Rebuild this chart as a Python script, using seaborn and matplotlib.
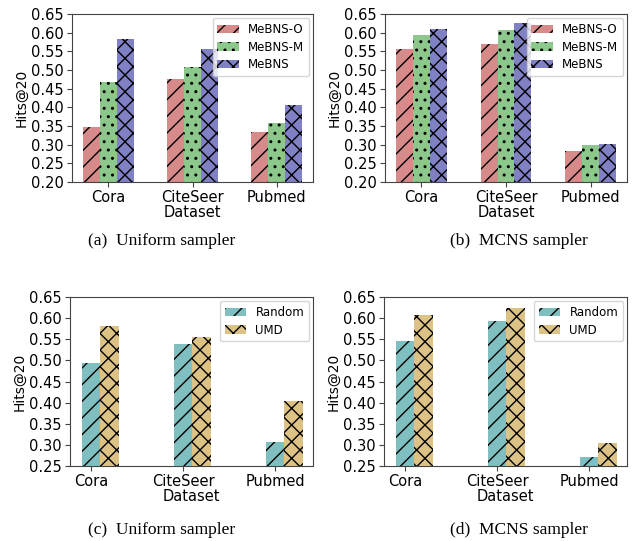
import seaborn as sns
import matplotlib.pyplot as plt
import pandas as pd
from matplotlib.patches import Patch

datasets = ["Cora", "CiteSeer", "Pubmed"]

# (a) / (b): MeBNS variants
variants = ["MeBNS-O", "MeBNS-M", "MeBNS"]
uni_mebns_o = [0.346, 0.477, 0.335]
uni_mebns_m = [0.468, 0.508, 0.358]
uni_mebns = [0.582, 0.555, 0.405]
mcns_mebns_o = [0.556, 0.569, 0.283]
mcns_mebns_m = [0.594, 0.607, 0.298]
mcns_mebns = [0.609, 0.625, 0.303]

# (c) / (d): Random vs UMD
strategies = ["Random", "UMD"]
uni_random = [0.494, 0.538, 0.307]
uni_umd = [0.582, 0.555, 0.405]
mcns_random = [0.546, 0.593, 0.272]
mcns_umd = [0.608, 0.625, 0.304]

variant_colors = ["#D68A8A", "#8CC78C", "#8080C4"]
variant_hatches = ["//", "..", "xx"]
strategy_colors = ["#80BFBF", "#DCC285"]
strategy_hatches = ["//", "xx"]

captions = ["(a)  Uniform sampler", "(b)  MCNS sampler",
            "(c)  Uniform sampler", "(d)  MCNS sampler"]


def long_df(names, series):
    rows = []
    for name, vals in zip(names, series):
        for d, v in zip(datasets, vals):
            rows.append({"Dataset": d, "Method": name, "Hits@20": v})
    return pd.DataFrame(rows)


def draw(ax, names, series, colors, hatches, ylim, width, shift):
    df = long_df(names, series)
    sns.barplot(data=df, x="Dataset", y="Hits@20", hue="Method",
                palette=colors, width=width, saturation=1,
                errorbar=None, legend=False, ax=ax)
    for cont, h in zip(ax.containers, hatches):
        for p in cont:
            p.set_hatch(h)
            p.set_edgecolor("black")
            p.set_linewidth(0)
    ax.set_ylim(*ylim)
    n = int(round((ylim[1] - ylim[0]) / 0.05))
    yt = [round(ylim[0] + 0.05 * i, 2) for i in range(n + 1)]
    ax.set_yticks(yt)
    ax.set_yticklabels([f"{t:.2f}" for t in yt])
    ax.set_xticks([i + shift for i in range(len(datasets))])
    ax.set_xticklabels(datasets)
    if shift == 0:
        ax.set_xlim(-0.43, 2.43)
    else:
        ax.set_xlim(-0.33, 2.31)
    ax.tick_params(labelsize=10.5, pad=2.5, color="#444444")
    for s in ax.spines.values():
        s.set_color("#444444")
    ax.set_xlabel("Dataset", fontsize=10.5, labelpad=0)
    ax.set_ylabel("Hits@20", fontsize=10, labelpad=2)
    handles = [Patch(facecolor=c, edgecolor="black", linewidth=0, hatch=h, label=n)
               for n, c, h in zip(names, colors, hatches)]
    ax.legend(handles=handles, loc="upper right", fontsize=8.5,
              labelspacing=0.4, handlelength=1.8, borderaxespad=0.35)


fig = plt.figure(figsize=(6.41, 5.41), dpi=100)
ax_a = fig.add_axes([72 / 641, 1 - 182 / 541, 241 / 641, 168 / 541])
ax_b = fig.add_axes([385 / 641, 1 - 182 / 541, 242 / 641, 168 / 541])
ax_c = fig.add_axes([70 / 641, 1 - 466 / 541, 243 / 641, 169 / 541])
ax_d = fig.add_axes([384 / 641, 1 - 466 / 541, 243 / 641, 169 / 541])

draw(ax_a, variants, [uni_mebns_o, uni_mebns_m, uni_mebns],
     variant_colors, variant_hatches, (0.2, 0.65), 0.6, 0)
draw(ax_b, variants, [mcns_mebns_o, mcns_mebns_m, mcns_mebns],
     variant_colors, variant_hatches, (0.2, 0.65), 0.6, 0)
draw(ax_c, strategies, [uni_random, uni_umd],
     strategy_colors, strategy_hatches, (0.25, 0.65), 0.4, -0.1)
draw(ax_d, strategies, [mcns_random, mcns_umd],
     strategy_colors, strategy_hatches, (0.25, 0.65), 0.4, -0.1)

# captions under each panel
for (x, y), txt in zip([(162, 241), (519, 241), (162, 530), (519, 530)], captions):
    fig.text(x / 641, 1 - y / 541, txt, ha="center", va="center",
             fontsize=12.5, family="Liberation Serif")

fig.savefig("out.png", dpi=100)
